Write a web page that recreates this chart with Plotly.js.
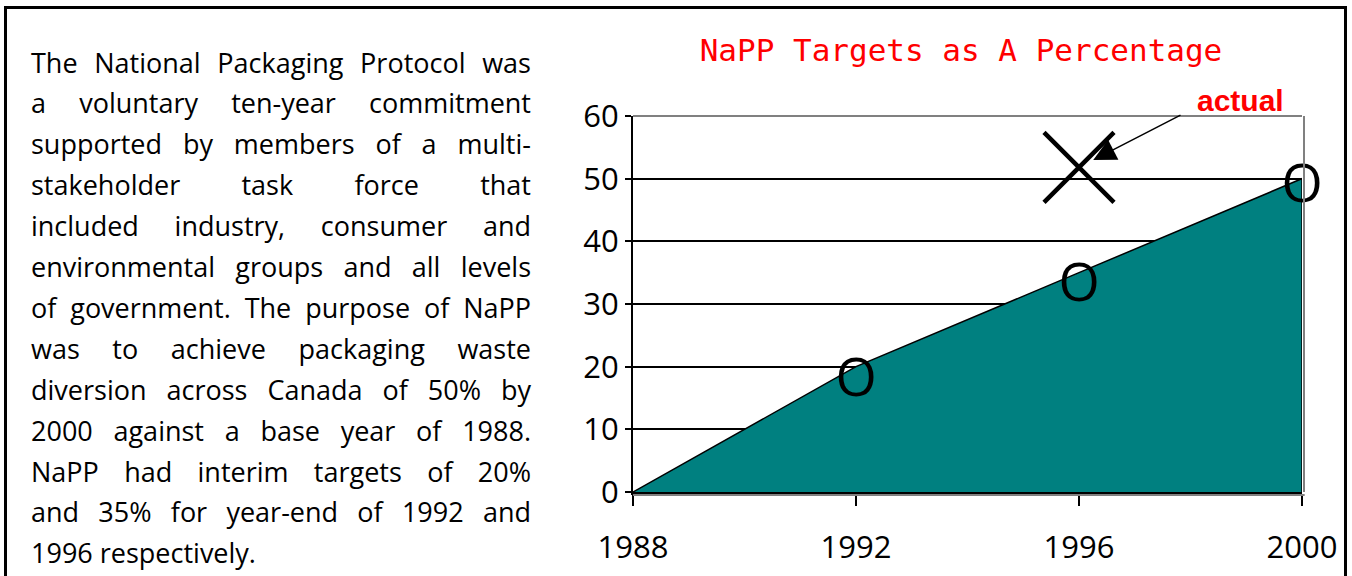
<!DOCTYPE html>
<html>
<head>
<meta charset="utf-8">
<script src="https://cdn.plot.ly/plotly-3.0.1.min.js"></script>
<style>
html,body{margin:0;padding:0;background:#fff;overflow:hidden;}
#chart{width:1352px;height:576px;}
</style>
</head>
<body>
<div id="chart"></div>
<script>
// ---- data ----
const years = [1988, 1992, 1996, 2000];
const targets = [0, 20, 35, 50];
const markerYears = [1992, 1996, 2000];
const markerValues = [17.4, 32.6, 48.4];
const actualYears = [1996];
const actualValues = [51.8];
const yTicks = [0, 10, 20, 30, 40, 50, 60];
const titleText = 'NaPP Targets as A Percentage';
const actualLabel = 'actual';
const paragraphLines = [
  'The National Packaging Protocol was',
  'a voluntary ten-year commitment',
  'supported by members of a multi-',
  'stakeholder task force that',
  'included industry, consumer and',
  'environmental groups and all levels',
  'of government. The purpose of NaPP',
  'was to achieve packaging waste',
  'diversion across Canada of 50% by',
  '2000 against a base year of 1988.',
  'NaPP had interim targets of 20%',
  'and 35% for year-end of 1992 and',
  '1996 respectively.'
];

// ---- geometry (pixels) ----
const W = 1352, H = 576;
const M = {l: 633, r: 50, t: 116, b: 84};
const PW = W - M.l - M.r, PH = H - M.t - M.b;
const px2x = p => (p - M.l) / PW;
const px2y = p => (H - M.b - p) / PH;

const textLeft = 31, textWidth = 500, firstLineY = 62, lineStep = 40.9;

const annotations = paragraphLines.map((t, i) => ({
  xref: 'paper', yref: 'paper',
  x: px2x(textLeft - 2), y: px2y(firstLineY + i * lineStep),
  xanchor: 'left', yanchor: 'middle', align: 'left',
  text: t, showarrow: false,
  font: {family: 'Open Sans', size: 27, color: '#000'}
}));

annotations.push({
  xref: 'x', yref: 'y', x: actualYears[0], y: actualValues[0],
  text: '', showarrow: true, ax: 103, ay: -53, standoff: 16,
  arrowhead: 2, arrowsize: 3, arrowwidth: 1.5, arrowcolor: '#000'
});
annotations.push({
  xref: 'paper', yref: 'paper', x: px2x(1240), y: px2y(101),
  xanchor: 'center', yanchor: 'middle',
  text: '<b>' + actualLabel + '</b>', showarrow: false,
  font: {family: 'Liberation Sans', size: 30, color: '#ff0000'}
});

const traces = [
  {
    x: years.concat([years[years.length - 1]]),
    y: targets.concat([0]),
    mode: 'lines', fill: 'toself', fillcolor: '#008080',
    line: {color: '#000', width: 1.5}, hoverinfo: 'skip', showlegend: false
  },
  {
    x: markerYears, y: markerValues, mode: 'text', text: markerYears.map(() => 'O'),
    textposition: 'middle center',
    textfont: {family: 'Open Sans', size: 53, color: '#000'},
    hoverinfo: 'skip', showlegend: false, cliponaxis: false
  },
  {
    x: actualYears, y: actualValues, mode: 'markers',
    marker: {symbol: 'x-thin-open', size: 70, color: '#000', line: {color: '#000', width: 4.5}},
    hoverinfo: 'skip', showlegend: false, cliponaxis: false
  }
];

const shapes = [
  {type: 'line', xref: 'paper', yref: 'paper', x0: 0, x1: 1, y0: 1, y1: 1,
   line: {color: '#808080', width: 2}, layer: 'above'},
  {type: 'line', xref: 'paper', yref: 'paper', xanchor: 1, xsizemode: 'pixel', x0: 2, x1: 2, y0: 0, y1: 1,
   line: {color: '#808080', width: 2}, layer: 'above'},
  {type: 'line', xref: 'paper', yref: 'paper', yanchor: 0, ysizemode: 'pixel', y0: -3, y1: -3, x0: 0, x1: 1.004,
   line: {color: '#808080', width: 2}, layer: 'above'},
  {type: 'rect', xref: 'paper', yref: 'paper',
   x0: px2x(5.5), x1: px2x(1345.5), y0: px2y(620), y1: px2y(7.5),
   line: {color: '#000', width: 3}, layer: 'above'}
];

const layout = {
  width: W, height: H, margin: M,
  paper_bgcolor: '#fff', plot_bgcolor: '#fff',
  showlegend: false,
  title: {
    text: titleText, xref: 'container', yref: 'container',
    x: 961 / W, xanchor: 'center', y: 1 - 50 / H, yanchor: 'middle',
    font: {family: 'DejaVu Sans Mono', size: 31, color: '#ff0000'}
  },
  xaxis: {
    range: [years[0], years[years.length - 1]], tickvals: years, ticktext: years.map(String),
    showgrid: false, zeroline: false, showline: true, linecolor: '#000', linewidth: 3,
    ticks: 'outside', ticklen: 11, tickwidth: 2, tickcolor: '#000',
    ticklabelstandoff: 15,
    tickfont: {family: 'Open Sans', size: 31, color: '#000'}
  },
  yaxis: {
    range: [0, 60], tickvals: yTicks, ticktext: yTicks.map(String),
    showgrid: true, gridcolor: '#000', gridwidth: 2,
    zeroline: false, showline: true, linecolor: '#000', linewidth: 2,
    ticks: 'outside', ticklen: 6, tickwidth: 2, tickcolor: '#000',
    tickfont: {family: 'Open Sans', size: 31, color: '#000'}
  },
  shapes: shapes,
  annotations: annotations,
  hovermode: false
};

Plotly.newPlot('chart', traces, layout, {displayModeBar: false, staticPlot: true}).then(() => {
  const groups = document.querySelectorAll('g.annotation');
  groups.forEach(g => {
    const idx = +g.getAttribute('data-index');
    if (isNaN(idx) || idx >= paragraphLines.length - 1) return;
    const t = g.querySelector('text.annotation-text');
    if (!t) return;
    const spaces = (paragraphLines[idx].match(/ /g) || []).length;
    if (!spaces) return;
    t.style.wordSpacing = '0px';
    const w0 = t.getComputedTextLength();
    let ws = (textWidth - w0) / spaces;
    t.style.wordSpacing = ws + 'px';
    const w1 = t.getComputedTextLength();
    if (Math.abs(w1 - textWidth) > 1 && Math.abs(w1 - w0) > 0.5) {
      ws = ws * (textWidth - w0) / (w1 - w0);
      t.style.wordSpacing = ws + 'px';
    }
  });
});
</script>
</body>
</html>
